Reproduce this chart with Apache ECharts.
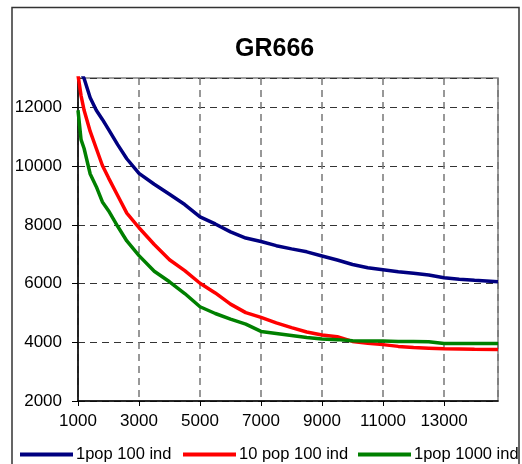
<!DOCTYPE html>
<html>
<head>
<meta charset="utf-8">
<script src="https://cdn.jsdelivr.net/npm/echarts@6/dist/echarts.min.js"></script>
<style>
html,body{margin:0;padding:0;background:#fff;}
#chart{width:522px;height:464px;}
</style>
</head>
<body>
<div id="chart"></div>
<script>
var title = 'GR666';
var seriesNames = ['1pop 100 ind', '10 pop 100 ind', '1pop 1000 ind'];
var generations = [1000, 1100, 1200, 1400, 1600, 1800, 2000, 2300, 2600, 3000, 3500, 4000, 4500, 5000, 5500, 6000, 6500, 7000, 7500, 8000, 8500, 9000, 9500, 10000, 10500, 11000, 11500, 12000, 12500, 13000, 13500, 14000, 14770];
var pop1ind100 = [13500, 13200, 12980, 12330, 11900, 11590, 11250, 10730, 10250, 9750, 9380, 9040, 8690, 8270, 8030, 7760, 7550, 7430, 7290, 7180, 7080, 6940, 6800, 6650, 6540, 6470, 6400, 6350, 6290, 6200, 6150, 6110, 6060];
var pop10ind100 = [13100, 12400, 11900, 11180, 10600, 10020, 9600, 9000, 8400, 7900, 7330, 6810, 6440, 6010, 5680, 5300, 5010, 4850, 4660, 4500, 4350, 4250, 4190, 4030, 3970, 3920, 3860, 3820, 3800, 3780, 3770, 3760, 3750];
var pop1ind1000 = [11900, 10900, 10600, 9730, 9300, 8780, 8480, 7950, 7450, 6950, 6420, 6060, 5660, 5210, 4980, 4790, 4620, 4370, 4300, 4230, 4160, 4110, 4090, 4050, 4040, 4040, 4030, 4030, 4020, 3960, 3960, 3960, 3960];
var xTickLabels = ['1000', '3000', '5000', '7000', '9000', '11000', '13000'];
var yTickLabels = ['2000', '4000', '6000', '8000', '10000', '12000'];

function pairs(vals) { return generations.map(function (g, i) { return [g, vals[i]]; }); }
var colors = ['#000080', '#ff0000', '#008000'];
var allVals = [pop1ind100, pop10ind100, pop1ind1000];
var font = 'Arial, "Liberation Sans", sans-serif';

var chart = echarts.init(document.getElementById('chart'));
chart.setOption({
  animation: false,
  backgroundColor: '#fff',
  title: {
    text: title, left: 230, top: 32,
    textStyle: { fontFamily: font, fontSize: 25, fontWeight: 'bold', color: '#000' }
  },
  graphic: [{
    type: 'rect', shape: { x: 12, y: 7.5, width: 507, height: 480 },
    style: { fill: 'none', stroke: '#333', lineWidth: 1.5 }, silent: true
  }],
  grid: { left: 78, top: 78, right: 24, bottom: 63, show: true, borderColor: '#808080', borderWidth: 1.5, containLabel: false },
  legend: seriesNames.map(function (n, i) {
    return {
      data: [n], left: [15, 178, 353][i], top: 441, icon: 'rect', itemWidth: 53, itemHeight: 4, itemGap: 6,
      textStyle: { fontFamily: font, fontSize: 16.5, color: '#000', padding: [0, 0, 0, -2] }
    };
  }),
  xAxis: {
    type: 'value', min: 1000, max: 14770, interval: 2000,
    axisLine: { lineStyle: { color: '#000', width: 1.5 } },
    axisTick: { show: true, length: 5, lineStyle: { color: '#000' } },
    axisLabel: {
      fontFamily: font, fontSize: 17, color: '#000', margin: 12, showMaxLabel: false,
      formatter: function (v) { var s = String(v); return xTickLabels.indexOf(s) >= 0 ? s : ''; }
    },
    splitLine: { show: true, lineStyle: { color: '#777', width: 1.5, type: [7, 5] } }
  },
  yAxis: {
    type: 'value', min: 2000, max: 13000, interval: 2000,
    axisLine: { show: true, lineStyle: { color: '#000', width: 1.5 } },
    axisTick: { show: true, length: 6, lineStyle: { color: '#000' } },
    axisLabel: {
      fontFamily: font, fontSize: 17, color: '#000', margin: 16, showMaxLabel: false,
      formatter: function (v) { var s = String(v); return yTickLabels.indexOf(s) >= 0 ? s : ''; }
    },
    splitLine: { show: true, lineStyle: { color: '#333', width: 1, type: [7, 5] } }
  },
  series: seriesNames.map(function (n, i) {
    return {
      name: n, type: 'line', data: pairs(allVals[i]), showSymbol: false, symbol: 'none', clip: true,
      lineStyle: { color: colors[i], width: 3.5 }, itemStyle: { color: colors[i] }
    };
  })
});
</script>
</body>
</html>
